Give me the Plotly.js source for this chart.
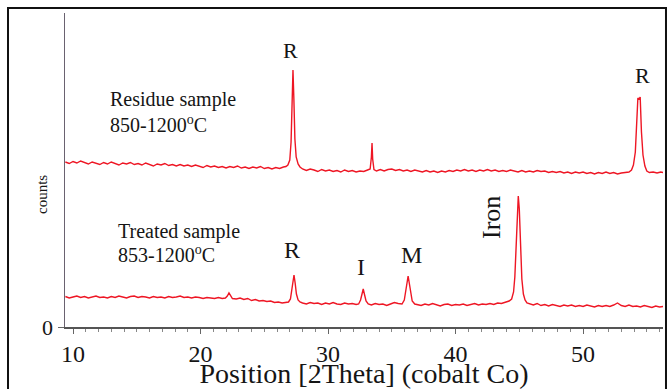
<!DOCTYPE html>
<html>
<head>
<meta charset="utf-8">
<script src="https://cdn.plot.ly/plotly-3.0.1.min.js"></script>
<style>html,body{margin:0;padding:0;background:#fff;}#chart{width:667px;height:389px;}</style>
</head>
<body>
<div id="chart"></div>
<script>
// Residue sample 850-1200 C (upper pattern)
const residueX = [
  9.4, 9.7, 10.0, 10.3, 10.6, 10.9, 11.2, 11.5, 11.8, 12.1, 12.4, 12.7, 13.0, 13.3, 13.6, 13.9, 14.2, 14.5, 14.8, 15.1,
  15.4, 15.7, 16.0, 16.3, 16.6, 16.9, 17.2, 17.5, 17.8, 18.1, 18.4, 18.7, 19.0, 19.3, 19.6, 19.9, 20.2, 20.5, 20.8, 21.1,
  21.4, 21.7, 22.0, 22.3, 22.6, 22.9, 23.2, 23.5, 23.8, 24.1, 24.4, 24.7, 25.0, 25.3, 25.6, 25.9, 26.2, 26.5,
  26.7, 26.85, 27.0, 27.1, 27.18, 27.25, 27.32, 27.4, 27.5, 27.65, 27.8,
  28.0, 28.3, 28.6, 28.9, 29.2, 29.5, 29.8, 30.1, 30.4, 30.7, 31.0, 31.3, 31.6, 31.9, 32.2, 32.5, 32.8, 33.1,
  33.3, 33.4, 33.45, 33.5, 33.6,
  33.8, 34.1, 34.4, 34.7, 35.0, 35.3, 35.6, 35.9, 36.2, 36.5, 36.8, 37.1, 37.4, 37.7, 38.0, 38.3, 38.6, 38.9, 39.2, 39.5,
  39.8, 40.1, 40.4, 40.7, 41.0, 41.3, 41.6, 41.9, 42.2, 42.5, 42.8, 43.1, 43.4, 43.7, 44.0, 44.3, 44.6, 44.9, 45.2, 45.5,
  45.8, 46.1, 46.4, 46.7, 47.0, 47.3, 47.6, 47.9, 48.2, 48.5, 48.8, 49.1, 49.4, 49.7, 50.0, 50.3, 50.6, 50.9, 51.2, 51.5,
  51.8, 52.1, 52.4, 52.7, 53.0, 53.3, 53.6,
  53.8, 53.95, 54.1, 54.2, 54.3, 54.39, 54.48, 54.58, 54.7, 54.85, 55.0,
  55.2, 55.5, 55.8, 56.1, 56.3
];
const residueY = [
  165, 163.5, 165.5, 164, 166, 164.5, 163, 165, 164, 162.5, 164.5, 163, 165, 163.5, 162, 164, 163, 164.5, 162.5, 163.5,
  162, 164, 162.5, 161, 163, 162, 163.5, 161.5, 162.5, 161, 162.5, 161, 162, 160.5, 162, 161, 159.5, 161.5, 160, 161,
  159.5, 160.5, 159, 160.5, 159.5, 161, 159, 160, 158.5, 160, 159, 160.5, 158.5, 159.5, 158, 159.5, 158.5, 160,
  160.5, 162, 167, 185, 225, 257, 228, 188, 170, 163, 160,
  158, 156.5, 158, 157, 155.5, 157.5, 156, 157, 155.5, 156.5, 155, 157, 155.5, 156.5, 155, 156, 155.5, 157,
  158, 170, 184, 168, 157.5,
  156, 157.5, 156, 157.5, 158, 156.5, 157.5, 156, 157, 155.5, 157, 156, 155, 156.5, 155, 156, 154.5, 156, 155, 156.5,
  155.5, 157, 156, 157.5, 156, 157, 155.5, 157, 156, 157.5, 156, 157, 155.5, 156.5, 155.5, 157, 156, 155, 156.5, 155,
  156, 155, 156.5, 155.5, 156, 154.5, 155.5, 154.5, 155.5, 154, 155, 153.5, 155, 154, 155, 153.5, 154.5, 153, 154.5, 153.5,
  155, 153.5, 154.5, 153, 154, 154.5, 155,
  157, 162, 175, 200, 229, 228, 230, 195, 172, 161, 156,
  154.5, 155, 154, 155, 154.5
];

// Treated sample 853-1200 C (lower pattern)
const treatedX = [
  9.4, 9.7, 10.0, 10.3, 10.6, 10.9, 11.2, 11.5, 11.8, 12.1, 12.4, 12.7, 13.0, 13.3, 13.6, 13.9, 14.2, 14.5, 14.8, 15.1,
  15.4, 15.7, 16.0, 16.3, 16.6, 16.9, 17.2, 17.5, 17.8, 18.1, 18.4, 18.7, 19.0, 19.3, 19.6, 19.9, 20.2, 20.5, 20.8, 21.1,
  21.4, 21.7,
  21.95, 22.1, 22.23, 22.35, 22.5,
  22.8, 23.1, 23.4, 23.7, 24.0, 24.3, 24.6, 24.9, 25.2, 25.5, 25.8, 26.1, 26.4, 26.7,
  26.9, 27.05, 27.15, 27.25, 27.33, 27.42, 27.52, 27.65, 27.8,
  28.0, 28.3, 28.6, 28.9, 29.2, 29.5, 29.8, 30.1, 30.4, 30.7, 31.0, 31.3, 31.6, 31.9, 32.2,
  32.4, 32.55, 32.68, 32.76, 32.85, 32.98, 33.15,
  33.4, 33.7, 34.0, 34.3, 34.6, 34.9, 35.2, 35.5,
  35.8, 35.98, 36.1, 36.2, 36.28, 36.37, 36.48, 36.6, 36.8,
  37.0, 37.3, 37.6, 37.9, 38.2, 38.5, 38.8, 39.1, 39.4, 39.7, 40.0, 40.3, 40.6, 40.9, 41.2, 41.5, 41.8, 42.1, 42.4, 42.7,
  43.0, 43.3, 43.6, 43.9, 44.2,
  44.4, 44.55, 44.65, 44.75, 44.85, 44.92, 45.0, 45.1, 45.2, 45.32, 45.45, 45.6,
  45.8, 46.1, 46.4, 46.7, 47.0, 47.3, 47.6, 47.9, 48.2, 48.5, 48.8, 49.1, 49.4, 49.7, 50.0, 50.3, 50.6, 50.9, 51.2, 51.5,
  51.8, 52.1, 52.4, 52.7, 53.0, 53.3, 53.6, 53.9, 54.2, 54.5, 54.8, 55.1, 55.4, 55.7, 56.0, 56.3
];
const treatedY = [
  30.5, 29, 30, 31, 29.5, 30.5, 29, 30, 31, 29.5, 30, 29, 30.5, 29.5, 31, 30, 29, 30.5, 31, 29.5,
  30.5, 30, 29, 30.5, 29.5, 30, 29, 30.5, 29.5, 30, 31, 29.5, 30, 29, 30, 29.5, 28.5, 29.5, 29, 28.5,
  29.5, 28.5,
  29, 31, 34, 31, 28.5,
  28, 29, 27.5, 28.5, 26.5, 27.5, 26, 26.5, 25.5, 26, 24.5, 25, 24, 24.5,
  25, 28, 36, 48, 52, 44, 33, 27, 25,
  24, 23, 24.5, 23.5, 24, 22.5, 24, 23, 24.5, 23, 22.5, 24, 23, 23.5, 22.5,
  23, 27, 35, 38, 33, 26, 23,
  22, 23.5, 22.5, 23, 21.5, 23, 24.5, 23.5,
  23, 27, 36, 47, 51, 44, 33, 26, 23,
  22.5, 21.5, 23, 22, 23.5, 22, 21, 22.5, 23, 21.5, 22.5, 22, 23, 21.5, 22.5, 23.5, 22, 23, 22.5, 23.5,
  22.5, 24, 23.5, 24.5, 26,
  28, 35, 50, 85, 126, 131, 118, 78, 48, 33, 27, 24,
  23, 22, 23.5, 21.5, 22.5, 21, 22.5, 21.5, 20.5, 22, 21, 22, 20.5, 21.5, 20.5, 22, 21, 20, 21.5, 20.5,
  21.5, 20.5, 22, 24, 21.5, 20.5, 22, 20.5, 21, 20, 21.5, 20.5, 19.5, 21, 20, 20.5
];

const xTitle = 'Position [2Theta] (cobalt Co)';
const yTitle = 'counts';
const peakLabels = ['R', 'R', 'R', 'I', 'M', 'Iron'];
const sampleLabels = ['Residue sample', '850-1200<sup>o</sup>C', 'Treated sample', '853-1200<sup>o</sup>C'];

const SERIF = 'Liberation Serif, Times New Roman, Times, serif';
const lineStyle = {color: 'rgb(238,22,36)', width: 1.4};

const traces = [
  {x: residueX, y: residueY, type: 'scatter', mode: 'lines', line: lineStyle, name: 'Residue sample'},
  {x: treatedX, y: treatedY, type: 'scatter', mode: 'lines', line: lineStyle, name: 'Treated sample'}
];

function ann(text, x, y, size, extra) {
  return Object.assign({text: text, x: x, y: y, xref: 'x', yref: 'y', showarrow: false,
    font: {family: SERIF, size: size, color: '#151515'}}, extra || {});
}

const layout = {
  width: 667, height: 389,
  margin: {l: 65, r: 4, t: 13, b: 62},
  paper_bgcolor: '#fff', plot_bgcolor: '#fff',
  showlegend: false,
  font: {family: SERIF, color: '#151515'},
  xaxis: {
    range: [9.37, 56.27], showgrid: false, zeroline: false,
    showline: true, linecolor: '#555', linewidth: 1.5,
    ticks: 'outside', tick0: 0, dtick: 10, ticklen: 5, tickcolor: '#666', tickwidth: 1,
    minor: {dtick: 1, ticks: 'outside', ticklen: 3, tickcolor: '#888', tickwidth: 1, showgrid: false},
    tickfont: {family: SERIF, size: 24, color: '#151515'},
    title: {text: xTitle, font: {family: SERIF, size: 28, color: '#151515'}, standoff: 7}
  },
  yaxis: {
    range: [0, 314], showgrid: false, zeroline: false,
    showline: true, linecolor: '#6a6270', linewidth: 1.5,
    tickvals: [0], ticktext: ['0'], ticks: 'outside', ticklen: 6, tickcolor: '#666',
    tickfont: {family: SERIF, size: 22, color: '#151515'}
  },
  annotations: [
    ann(peakLabels[0], 27.02, 277, 22),
    ann(peakLabels[1], 54.63, 252, 22),
    ann(peakLabels[2], 27.17, 77, 24),
    ann(peakLabels[3], 32.59, 60, 24),
    ann(peakLabels[4], 36.51, 72, 24),
    ann(peakLabels[5], 42.78, 109, 26, {textangle: -90}),
    ann(sampleLabels[0], 12.74, 228, 20, {xanchor: 'left'}),
    ann(sampleLabels[1], 12.74, 203, 20, {xanchor: 'left'}),
    ann(sampleLabels[2], 13.37, 96, 20, {xanchor: 'left'}),
    ann(sampleLabels[3], 13.37, 73, 20, {xanchor: 'left'}),
    {text: yTitle, xref: 'paper', yref: 'paper', x: -0.0385, y: 0.4236, xanchor: 'center', yanchor: 'middle',
     showarrow: false, textangle: -90, font: {family: SERIF, size: 15, color: '#151515'}}
  ],
  shapes: [
    {type: 'rect', xref: 'paper', yref: 'paper', x0: -0.0953, x1: 1.005, y0: -0.25, y1: 1.016,
     line: {color: '#111', width: 2}, fillcolor: 'rgba(0,0,0,0)', layer: 'above'}
  ]
};

Plotly.newPlot('chart', traces, layout, {displayModeBar: false, staticPlot: true});
</script>
</body>
</html>
